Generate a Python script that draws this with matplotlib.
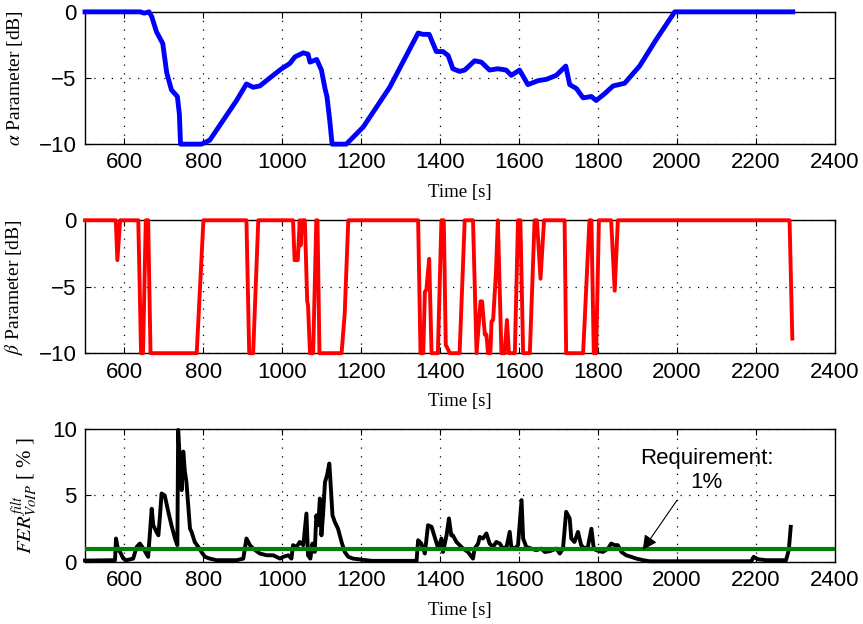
import matplotlib.pyplot as plt

# alpha parameter [dB] vs time [s]
t_alpha = [500, 640, 650, 662, 669, 681, 697, 707, 719, 734, 739, 742, 795, 816,
           850, 884, 909, 926, 943, 968, 998, 1019, 1032, 1053, 1065, 1070, 1087,
           1099, 1108, 1113, 1120, 1126, 1162, 1205, 1272, 1344, 1356, 1372, 1390,
           1407, 1420, 1432, 1449, 1462, 1487, 1504, 1525, 1546, 1567, 1580, 1601,
           1622, 1648, 1669, 1694, 1718, 1728, 1745, 1762, 1783, 1795, 1816, 1838,
           1867, 1905, 1947, 1994, 2293]
alpha = [0, 0, -0.1, 0, -0.35, -1.5, -2.4, -4.6, -5.9, -6.4, -7.7, -10, -10, -9.7,
         -8.2, -6.7, -5.45, -5.7, -5.6, -5.0, -4.3, -3.9, -3.4, -3.1, -3.2, -3.8, -3.6,
         -4.4, -5.8, -6.4, -8.2, -10, -10, -8.7, -5.7, -1.6, -1.7, -1.7, -3.0,
         -3.0, -3.3, -4.3, -4.5, -4.4, -3.7, -3.8, -4.4, -4.3, -4.4, -4.8, -4.4,
         -5.5, -5.2, -5.1, -4.8, -4.1, -5.5, -5.8, -6.5, -6.4, -6.7, -6.2, -5.6,
         -5.4, -4.1, -2.1, 0, 0]

# beta parameter [dB] vs time [s]
t_beta = [500, 578, 582, 589, 635, 642, 647, 654, 660, 666, 783, 800, 909, 916, 926,
          939, 1027, 1031, 1039, 1044, 1046, 1050, 1057, 1063, 1065, 1070, 1078,
          1086, 1089, 1094, 1150, 1158, 1167, 1344, 1350, 1357, 1361, 1365, 1372,
          1378, 1394, 1403, 1409, 1414, 1418, 1424, 1449, 1462, 1483, 1492, 1502,
          1506, 1513, 1517, 1521, 1527, 1530, 1534, 1541, 1546, 1555, 1563, 1569,
          1574, 1589, 1597, 1603, 1610, 1627, 1639, 1645, 1654, 1663, 1715, 1719,
          1762, 1778, 1783, 1789, 1795, 1802, 1833, 1842, 1850, 2285, 2292]
beta = [0, 0, -3.0, 0, 0, -10, -10, 0, 0, -10, -10, 0, 0, -10, -10,
        0, 0, -3.0, -3.0, 0, -1.9, 0, 0, -6.1, -6.4, -10, -10,
        0, 0, -10, -10, -7, 0, 0, -10, -10, -5.4, -5.2, -2.9,
        -10, -10, 0, 0, -9.4, -9.6, -10, -10, 0, 0, -10, -6.1,
        -6.1, -8.6, -8.6, -10, -10, -7.6, -7.5, -4, 0, -10, -10, -7.5,
        -10, -10, 0, 0, -10, -10, 0, 0, -4.4, 0, 0, -10,
        -10, 0, 0, -10, -10, 0, 0, -5.3, 0, 0, -8.9]

# filtered VoIP frame error rate [%] vs time [s]
t_fer = [500, 576, 578.5, 584, 589, 597, 605, 622, 631, 639, 648, 660, 669, 673, 681,
         686, 690, 694, 702, 711, 719, 728, 734, 736, 740, 745, 749, 753, 757, 762,
         766, 770, 778, 787, 795, 804, 816, 833, 884, 901, 909, 918, 926, 943, 960,
         977, 994, 1002, 1015, 1023, 1027, 1036, 1044, 1053, 1061, 1065, 1071, 1076,
         1082, 1086, 1091, 1095, 1099, 1103, 1108, 1113, 1119, 1122, 1127, 1133,
         1141, 1150, 1158, 1167, 1179, 1213, 1226, 1340, 1344, 1352, 1361, 1369,
         1378, 1386, 1395, 1403, 1407, 1416, 1422, 1428, 1432, 1441, 1458, 1470,
         1483, 1487, 1496, 1500, 1508, 1517, 1525, 1534, 1542, 1551, 1559, 1568,
         1576, 1580, 1589, 1597, 1606, 1610, 1618, 1631, 1643, 1656, 1665, 1677,
         1694, 1703, 1711, 1719, 1728, 1732, 1740, 1749, 1757, 1766, 1774, 1783,
         1789, 1795, 1812, 1825, 1833, 1842, 1850, 1859, 1871, 1884, 1897, 1914,
         1930, 2188, 2194, 2205, 2226, 2276, 2283, 2288]
fer = [0.1, 0.13, 1.76, 0.88, 0.75, 0.25, 0.13, 0.25, 1.13, 1.38, 1.0, 0.38, 4.0, 2.76, 2.26,
       2.0, 3.5, 5.15, 5.0, 3.77, 2.76, 1.76, 1.26, 9.93, 7.8, 5.4, 8.3, 6.8, 6.0, 4.0,
       2.5, 2.26, 1.5, 1.13, 0.75, 0.38, 0.25, 0.13, 0.13, 0.25, 1.76, 1.26, 1.0, 0.63, 0.5,
       0.5, 0.25, 0.38, 0.5, 0.25, 1.26, 1.13, 1.5, 1.26, 3.64, 0.5, 0.25, 1.38,
       0.75, 3.5, 2.76, 4.77, 2.0, 3.5, 6.0, 6.5, 7.4, 6.0, 3.5, 3.0,
       2.5, 1.5, 0.75, 0.38, 0.25, 0.13, 0.08, 0.08, 1.63, 1.38, 0.63, 2.76,
       2.64, 1.88, 1.0, 1.76, 0.75, 2.0, 3.27, 2.0, 2.0, 1.5, 1.0, 0.75,
       0.25, 1.0, 1.38, 1.88, 1.76, 2.14, 1.38, 1.13, 1.5, 1.38, 1.0, 1.13,
       2.26, 1.13, 1.0, 1.26, 4.65, 1.76, 1.13, 1.0, 0.88, 1.0, 0.75, 0.8,
       1.0, 0.63, 1.0, 3.77, 3.27, 1.76, 1.5, 2.26, 1.26, 1.0, 1.13, 2.5,
       1.0, 0.88, 0.75, 1.0, 1.38, 1.26, 1.26, 0.75, 0.5, 0.38, 0.25, 0.13,
       0.05, 0.05, 0.38, 0.2, 0.13, 0.13, 0.88, 2.64]

requirement = 1.0
x_ticks = [600, 800, 1000, 1200, 1400, 1600, 1800, 2000, 2200, 2400]

plt.rcParams['mathtext.fontset'] = 'stix'

tick_font = 'Liberation Sans'
label_font = 'Liberation Serif'

fig = plt.figure(figsize=(8.63, 6.24), dpi=100)
left, width = 0.0985, 0.869
ax1 = fig.add_axes([left, 0.769, width, 0.212])
ax2 = fig.add_axes([left, 0.434, width, 0.213])
ax3 = fig.add_axes([left, 0.0995, width, 0.213])


def style_axis(ax, ylim, yticks, ylabel, label_x=-0.08, label_size=14):
    ax.set_xlim(500, 2400)
    ax.set_ylim(*ylim)
    ax.set_xticks(x_ticks)
    ax.set_yticks(yticks)
    ax.grid(True, color='k', linestyle=(0, (1, 6)), linewidth=0.9)
    ax.tick_params(direction='in', top=True, right=True, length=4, width=0.8,
                   labelsize=16, pad=6)
    for lab in ax.get_xticklabels() + ax.get_yticklabels():
        lab.set_fontfamily(tick_font)
    for sp in ax.spines.values():
        sp.set_linewidth(1.0)
    ax.set_xlabel('Time [s]', fontfamily=label_font, fontsize=13.5)
    ax.xaxis.set_label_coords(0.5, -0.3)
    ax.set_ylabel(ylabel, fontfamily=label_font, fontsize=label_size)
    ax.yaxis.set_label_coords(label_x, 0.5)


ax1.plot(t_alpha, alpha, color='#0000ff', lw=3.5, clip_on=False, zorder=3)
style_axis(ax1, (-10, 0), [-10, -5, 0], r'$\alpha$ Parameter [dB]')

ax2.plot(t_beta, beta, color='#ff0000', lw=2.8, clip_on=False, zorder=3)
style_axis(ax2, (-10, 0), [-10, -5, 0], r'$\beta$ Parameter [dB]')

ax3.plot(t_fer, fer, color='k', lw=2.8, clip_on=False, zorder=3)
ax3.axhline(requirement, color='#008000', lw=3, zorder=4)
style_axis(ax3, (0, 10), [0, 5, 10], r'$FER_{VoIP}^{filt}$ [ % ]',
           label_x=-0.06, label_size=15)

ax3.annotate('', xy=(1913, 0.9), xytext=(2000, 4.65),
             arrowprops=dict(arrowstyle='-|>', color='k', lw=0.8,
                             mutation_scale=22, shrinkA=0, shrinkB=0),
             zorder=5)
ax3.text(2075, 6.9, 'Requirement:\n1%', ha='center', va='center',
         fontfamily=tick_font, fontsize=16, zorder=5)

fig.savefig('out.png', dpi=100)
